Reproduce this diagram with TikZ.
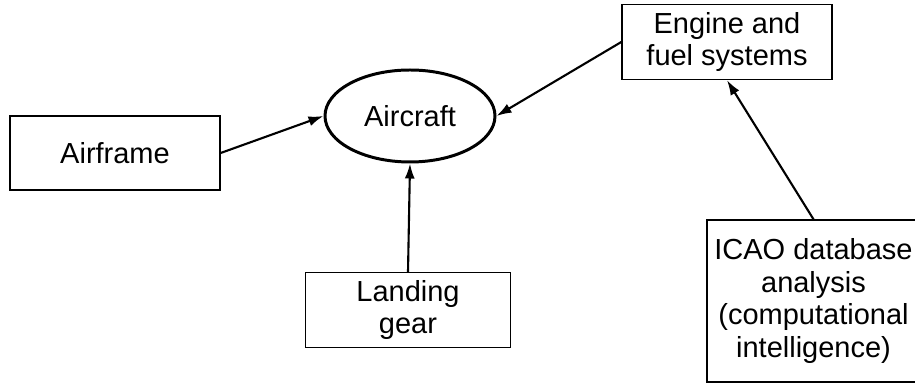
\documentclass[tikz,border=0pt]{standalone}
\usepackage{fontspec}
\setmainfont{Liberation Sans}
\usepackage{tikz}
\usetikzlibrary{positioning,shapes,arrows.meta}

\begin{document}
\begin{tikzpicture}[line width=0.8pt, >={Latex[length=3mm,width=2mm]},
    box/.style={draw=black, rectangle, align=center, font=\fontsize{16.5}{18.5}\selectfont},
    part/.style={draw=black, ellipse, line width=1.7pt, font=\fontsize{16.5}{18.5}\selectfont},
    link/.style={->, line width=1.2pt}]
    \useasboundingbox (0,0) rectangle (18.3,7.74);

    \node[part, minimum width=3.4cm, minimum height=1.84cm] (aircraft) at (8.2,5.42) {Aircraft};
    \node[box, minimum width=4.2cm, minimum height=1.48cm] (airframe) at (2.3,4.68) {Airframe};
    \node[box, minimum width=4.2cm, minimum height=1.5cm] (engine) at (14.54,6.9) {Engine and\\fuel systems};
    \node[box, minimum width=4.1cm, minimum height=1.5cm] (gear) at (8.16,1.54) {Landing\\gear};
    \node[box, minimum width=4.26cm, minimum height=3.24cm] (icao) at (16.27,1.72) {ICAO database\\analysis\\(computational\\intelligence)};

    \draw[link] (airframe.east) -- (aircraft.west);
    \draw[link] (engine.west) -- (aircraft.east);
    \draw[link] (gear.north) -- (aircraft.south);
    \draw[link] (icao.north) -- (engine.south);

\end{tikzpicture}
\end{document}
